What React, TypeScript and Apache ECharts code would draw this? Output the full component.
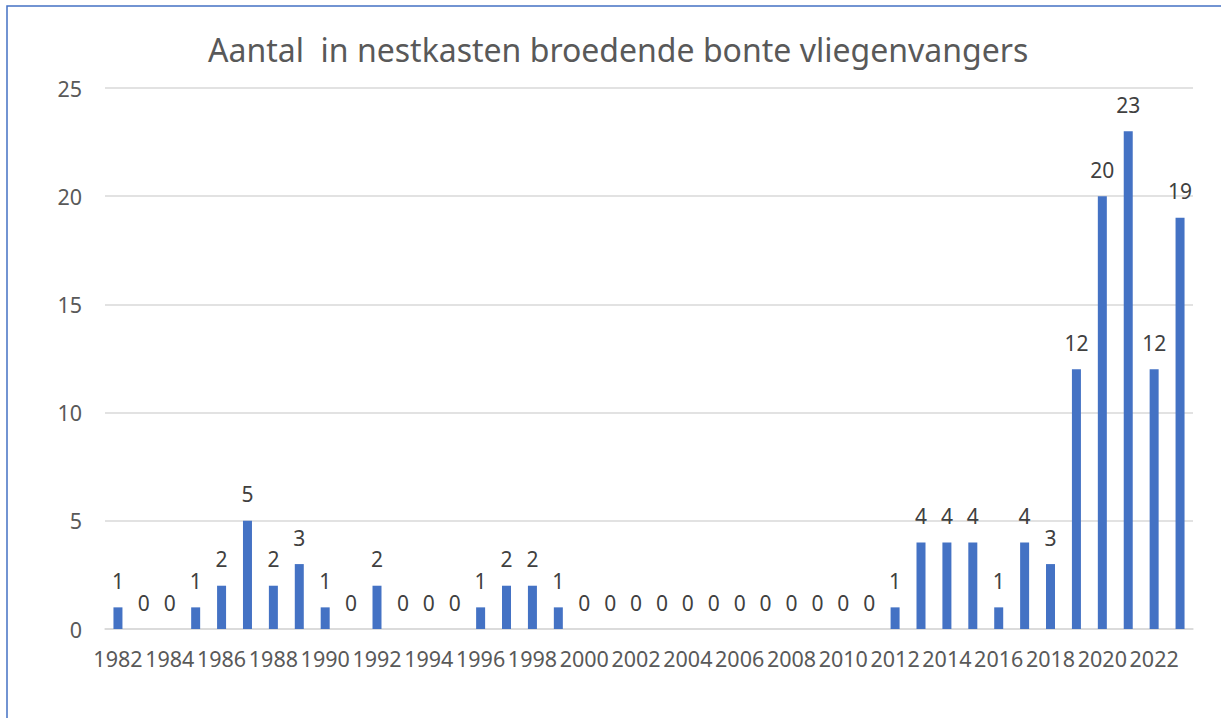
import React, { useEffect, useRef } from "react";
import * as echarts from "echarts";

const years: string[] = [];
for (let y = 1982; y <= 2023; y++) years.push(String(y));

const counts = [
  1, 0, 0, 1, 2, 5, 2, 3, 1, 0, 2, 0, 0, 0, 1, 2, 2, 1,
  0, 0, 0, 0, 0, 0, 0, 0, 0, 0, 0, 0,
  1, 4, 4, 4, 1, 4, 3, 12, 20, 23, 12, 19,
];

const titleText = "Aantal  in nestkasten broedende bonte vliegenvangers";
const font = "'Noto Sans', 'Open Sans', sans-serif";

export default function App() {
  const ref = useRef<HTMLDivElement>(null);
  useEffect(() => {
    if (!ref.current) return;
    const chart = echarts.init(ref.current, undefined, { renderer: "svg" });
    chart.setOption({
      animation: false,
      backgroundColor: "#ffffff",
      textStyle: { fontFamily: font },
      title: {
        text: titleText,
        left: 203,
        top: 28,
        textStyle: { fontFamily: font, fontSize: 32, fontWeight: "normal", color: "#595959" },
      },
      graphic: [
        {
          type: "rect",
          shape: { x: 7, y: 6, width: 1400, height: 900 },
          style: { fill: "none", stroke: "#4472C4", lineWidth: 1.5 },
          silent: true,
        },
      ],
      grid: { left: 105, right: 28, top: 88, bottom: 89 },
      xAxis: {
        type: "category",
        data: years,
        axisLine: { lineStyle: { color: "#D9D9D9", width: 1.5 } },
        axisTick: { show: false },
        axisLabel: {
          interval: 1,
          color: "#595959",
          fontSize: 21.5,
          fontFamily: font,
          margin: 18,
        },
      },
      yAxis: {
        type: "value",
        min: 0,
        max: 25,
        interval: 5,
        axisLine: { show: false },
        axisTick: { show: false },
        splitLine: { lineStyle: { color: "#D9D9D9", width: 1.5 } },
        axisLabel: { color: "#595959", fontSize: 21.5, fontFamily: font, margin: 23 },
      },
      series: [
        {
          type: "bar",
          data: counts,
          barWidth: 9,
          itemStyle: { color: "#4472C4" },
          label: {
            show: true,
            position: "top",
            distance: 16,
            color: "#404040",
            fontSize: 21,
            fontFamily: font,
          },
        },
      ],
    });
    return () => chart.dispose();
  }, []);
  return (
    <div
      ref={ref}
      style={{ position: "absolute", left: 0, top: 0, width: 1221, height: 718 }}
    />
  );
}
